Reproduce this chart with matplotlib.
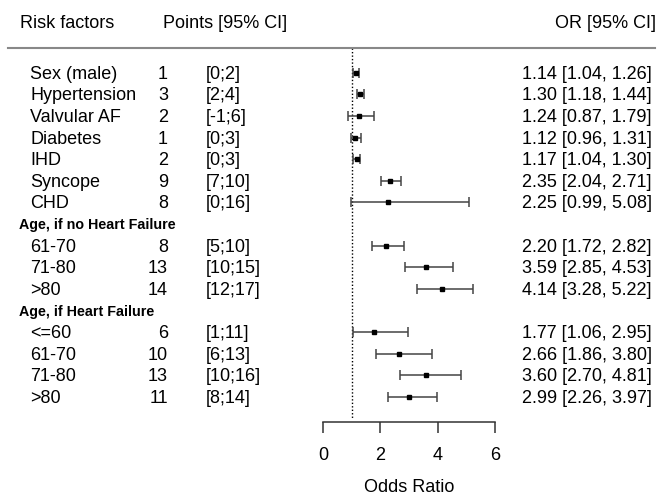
import matplotlib
matplotlib.use("Agg")
import matplotlib.pyplot as plt
from matplotlib.lines import Line2D
import numpy as np

plt.rcParams["font.family"] = ["Liberation Sans", "DejaVu Sans"]

# one entry per row; group headers have no estimate
row_labels = ["Sex (male)", "Hypertension", "Valvular AF", "Diabetes", "IHD",
              "Syncope", "CHD", "Age, if no Heart Failure", "61-70", "71-80",
              ">80", "Age, if Heart Failure", "<=60", "61-70", "71-80", ">80"]
is_header = [False] * 7 + [True, False, False, False, True, False, False, False, False]
points = ["1", "3", "2", "1", "2", "9", "8", "", "8", "13", "14", "",
          "6", "10", "13", "11"]
points_ci = ["[0;2]", "[2;4]", "[-1;6]", "[0;3]", "[0;3]", "[7;10]", "[0;16]", "",
             "[5;10]", "[10;15]", "[12;17]", "", "[1;11]", "[6;13]", "[10;16]", "[8;14]"]
odds = [1.14, 1.30, 1.24, 1.12, 1.17, 2.35, 2.25, np.nan, 2.20, 3.59, 4.14, np.nan,
        1.77, 2.66, 3.60, 2.99]
ci_low = [1.04, 1.18, 0.87, 0.96, 1.04, 2.04, 0.99, np.nan, 1.72, 2.85, 3.28, np.nan,
          1.06, 1.86, 2.70, 2.26]
ci_high = [1.26, 1.44, 1.79, 1.31, 1.30, 2.71, 5.08, np.nan, 2.82, 4.53, 5.22, np.nan,
           2.95, 3.80, 4.81, 3.97]
x_ticks = [0, 2, 4, 6]

W, H = 661, 496
FS = 13
fig = plt.figure(figsize=(W / 100, H / 100), dpi=100)

# pixel helpers
ROW0, STEP = 72.7, 21.6
TXT_DY = 1.5  # text sits a touch below the marker centre in the original


def fx(px):
    return px / W


def fy(py):
    return 1 - py / H


# forest panel: x 0..6 spans px 323..495, top at the rule (48), bottom at axis (422)
top, bot = 48, 422
ax = fig.add_axes([fx(323), fy(bot), (495 - 323) / W, (bot - top) / H])
ax.set_xlim(0, 6)
ax.set_ylim((bot - ROW0) / STEP, (top - ROW0) / STEP)
ax.patch.set_visible(False)
for s in ("top", "right", "left"):
    ax.spines[s].set_visible(False)
ax.spines["bottom"].set_color("#333333")
ax.spines["bottom"].set_linewidth(1.1)
ax.set_yticks([])
ax.set_xticks(x_ticks)
ax.tick_params(axis="x", length=8, width=1.1, color="#333333", pad=10,
               labelsize=FS)

rows = np.arange(len(row_labels))
odds_a = np.array(odds)
lo = np.array(ci_low)
hi = np.array(ci_high)
ax.vlines(1, ax.get_ylim()[1], 16.0, colors="black", linestyles=(0, (1, 1.5)), lw=1)
ax.errorbar(odds_a, rows, xerr=[odds_a - lo, hi - odds_a], fmt="none",
            ecolor="#444444", elinewidth=1.1, capsize=3.5, capthick=1.1)
ax.plot(odds_a, rows, "s", color="black", markersize=3.5, linestyle="none")

fig.text(fx(409), fy(487), "Odds Ratio", fontsize=FS, va="center", ha="center")

# header row and rule
fig.text(fx(20), fy(23), "Risk factors", fontsize=FS, va="center")
fig.text(fx(163), fy(23), "Points [95% CI]", fontsize=FS, va="center")
fig.text(fx(656), fy(23), "OR [95% CI]", fontsize=FS, va="center", ha="right")
fig.add_artist(Line2D([fx(8), fx(655)], [fy(48), fy(48)], color="#888888", lw=1.5))

for i, lab in enumerate(row_labels):
    y = fy(ROW0 + STEP * i + TXT_DY)
    if is_header[i]:
        fig.text(fx(19), y, lab, fontsize=10.3, fontweight="bold", va="center")
        continue
    fig.text(fx(30), y, lab, fontsize=FS, va="center")
    fig.text(fx(168), y, points[i], fontsize=FS, va="center", ha="right")
    fig.text(fx(206), y, points_ci[i], fontsize=FS, va="center")
    fig.text(fx(652), y, f"{odds[i]:.2f} [{ci_low[i]:.2f}, {ci_high[i]:.2f}]",
             fontsize=FS, va="center", ha="right")

fig.savefig("out.png", dpi=100)
